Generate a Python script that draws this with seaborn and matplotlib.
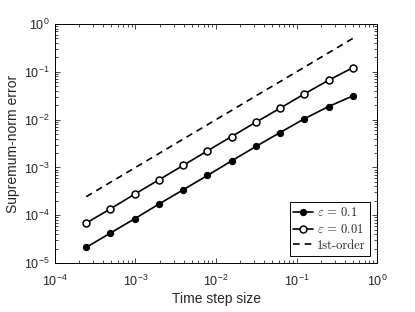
import numpy as np
import pandas as pd
import matplotlib
matplotlib.use("Agg")
import matplotlib.pyplot as plt
import seaborn as sns

# time step sizes (2^-12 ... 2^-1)
dt = [0.000244140625, 0.00048828125, 0.0009765625, 0.001953125, 0.00390625,
      0.0078125, 0.015625, 0.03125, 0.0625, 0.125, 0.25, 0.5]

# supremum-norm errors
err_eps_01 = [2.12e-5, 4.24e-5, 8.43e-5, 1.71e-4, 3.40e-4, 6.78e-4,
              1.37e-3, 2.74e-3, 5.37e-3, 1.04e-2, 1.88e-2, 3.13e-2]
err_eps_001 = [6.85e-5, 1.36e-4, 2.76e-4, 5.50e-4, 1.10e-3, 2.22e-3,
               4.43e-3, 8.83e-3, 1.73e-2, 3.45e-2, 6.66e-2, 1.22e-1]
ref_first_order = [2.44e-4, 4.88e-4, 9.77e-4, 1.95e-3, 3.91e-3, 7.81e-3,
                   1.56e-2, 3.13e-2, 6.25e-2, 1.25e-1, 2.5e-1, 5.0e-1]

labels = [r'$\varepsilon\,=\,0.1$', r'$\varepsilon\,=\,0.01$', '1st-order']

sns.set_style("ticks")
plt.rcParams['font.family'] = ['Liberation Sans', 'DejaVu Sans']
plt.rcParams['mathtext.fontset'] = 'cm'
plt.rcParams['xtick.direction'] = 'in'
plt.rcParams['ytick.direction'] = 'in'

df = pd.DataFrame({'dt': dt, 'e1': err_eps_01, 'e2': err_eps_001, 'ref': ref_first_order})

fig = plt.figure(figsize=(4.15, 3.12), dpi=100)
ax = fig.add_axes([0.1325, 0.157, 0.776, 0.766])

sns.lineplot(data=df, x='dt', y='e1', ax=ax, color='black', lw=1.2,
             marker='o', markersize=4.5, markerfacecolor='black',
             markeredgecolor='black', label=labels[0])
sns.lineplot(data=df, x='dt', y='e2', ax=ax, color='black', lw=1.2,
             marker='o', markersize=5, markerfacecolor='white',
             markeredgecolor='black', markeredgewidth=1.1, label=labels[1])
sns.lineplot(data=df, x='dt', y='ref', ax=ax, color='black', lw=1.2,
             label=labels[2])
ax.lines[-1].set_dashes([4, 3])

ax.set_xscale('log')
ax.set_yscale('log')
ax.set_xlim(1e-4, 1e0)
ax.set_ylim(1e-5, 1e0)

ax.tick_params(which='both', top=True, right=True, width=0.6, labelsize=9)
ax.tick_params(which='major', length=3.5)
ax.tick_params(which='minor', length=2)
ax.tick_params(axis='x', which='major', pad=8)
ax.tick_params(axis='y', which='major', pad=4)
for s in ax.spines.values():
    s.set_linewidth(0.7)
    s.set_color('black')

ax.set_xlabel('Time step size', fontsize=10, labelpad=2)
ax.set_ylabel('Supremum-norm error', fontsize=10, labelpad=3)

leg = ax.legend(loc='lower right', fancybox=False, framealpha=1,
                edgecolor='black', handlelength=1.6, handletextpad=0.3,
                borderpad=0.3, labelspacing=0.3, borderaxespad=0.6,
                prop={'family': 'cmr10', 'size': 9})
leg.get_frame().set_linewidth(0.7)

fig.savefig('out.png', dpi=100)
